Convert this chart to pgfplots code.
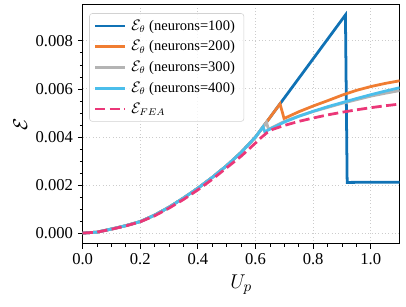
\documentclass[border=0pt]{standalone}
\usepackage{pgfplots}
\usepackage{pgfplotstable}
\pgfplotsset{compat=1.18}
\usepackage{fontspec}
\setmainfont{Liberation Serif}
\definecolor{cblue}{RGB}{16,114,181}
\definecolor{corange}{RGB}{240,125,50}
\definecolor{cgray}{RGB}{180,180,180}
\definecolor{ccyan}{RGB}{75,190,235}
\definecolor{cpink}{RGB}{235,55,120}

\pgfplotstableread{
x y
0 0
0.05 0.00004
0.1 0.00017
0.15 0.00031
0.2 0.00048
0.25 0.00075
0.3 0.00108
0.35 0.00146
0.4 0.00187
0.45 0.00232
0.5 0.00281
0.55 0.00336
0.6 0.00400
0.626 0.00442
0.912 0.00908
0.918 0.00211
1.1 0.00212
}\tblA
\pgfplotstableread{
x y
0 0
0.05 0.00004
0.1 0.00017
0.15 0.00031
0.2 0.00048
0.25 0.00075
0.3 0.00108
0.35 0.00146
0.4 0.00187
0.45 0.00232
0.5 0.00281
0.55 0.00336
0.6 0.00400
0.626 0.00442
0.64 0.00465
0.685 0.00538
0.699 0.00477
0.75 0.00505
0.8 0.00529
0.85 0.00551
0.9 0.00574
0.95 0.00594
1.0 0.00610
1.05 0.00623
1.1 0.00634
}\tblB
\pgfplotstableread{
x y
0 0
0.05 0.00004
0.1 0.00017
0.15 0.00031
0.2 0.00048
0.25 0.00075
0.3 0.00108
0.35 0.00146
0.4 0.00187
0.45 0.00232
0.5 0.00281
0.55 0.00336
0.6 0.00400
0.626 0.00442
0.638 0.00461
0.645 0.00432
0.7 0.00465
0.75 0.00487
0.8 0.00506
0.85 0.00523
0.9 0.00540
0.95 0.00555
1.0 0.00570
1.05 0.00582
1.1 0.00593
}\tblC
\pgfplotstableread{
x y
0 0
0.05 0.00004
0.1 0.00017
0.15 0.00031
0.2 0.00048
0.25 0.00075
0.3 0.00108
0.35 0.00146
0.4 0.00187
0.45 0.00232
0.5 0.00281
0.55 0.00336
0.6 0.00400
0.626 0.00442
0.632 0.00422
0.7 0.00462
0.75 0.00486
0.8 0.00507
0.85 0.00526
0.9 0.00543
0.95 0.00560
1.0 0.00576
1.05 0.00591
1.1 0.00605
}\tblD
\pgfplotstableread{
x y
0 0
0.05 0.00004
0.1 0.00016
0.15 0.00030
0.2 0.00047
0.25 0.00072
0.3 0.00104
0.35 0.00140
0.4 0.00180
0.45 0.00224
0.5 0.00272
0.55 0.00320
0.6 0.00375
0.62 0.00398
0.64 0.00418
0.66 0.00432
0.7 0.00448
0.75 0.00465
0.8 0.00479
0.85 0.00492
0.9 0.00503
0.95 0.00513
1.0 0.00522
1.05 0.00530
1.1 0.00537
}\tblE

\begin{document}
\begin{tikzpicture}
\begin{axis}[
  scale only axis,
  width=228.2bp, height=172.1bp,
  xmin=0, xmax=1.1, ymin=-0.00045, ymax=0.0095,
  xtick={0,0.2,0.4,0.6,0.8,1.0},
  ytick={0,0.002,0.004,0.006,0.008},
  minor x tick num=3, minor y tick num=3,
  tick align=outside,
  xtick pos=bottom, ytick pos=left,
  major tick length=3.5pt, minor tick length=2pt,
  every tick/.style={black, line width=0.6pt},
  scaled y ticks=false,
  /pgf/number format/assume math mode=true,
  xticklabel style={/pgf/number format/.cd, fixed, fixed zerofill, precision=1},
  yticklabel style={/pgf/number format/.cd, fixed, fixed zerofill, precision=3},
  tick label style={font=\fontsize{12}{14}\selectfont},
  grid=major,
  major grid style={dotted, gray!40, line width=0.7pt},
  axis line style={line width=0.8pt},
  every axis x label/.style={at={(axis description cs:0.5,-0.171)}, anchor=center},
  every axis y label/.style={at={(axis description cs:-0.197,0.5)}, anchor=center, rotate=90},
  label style={font=\fontsize{15}{17}\selectfont},
  xlabel={$U_p$},
  ylabel={$\mathcal{E}$},
  legend cell align=left,
  legend style={at={(axis description cs:0.0208,0.965)}, anchor=north west,
    draw=gray!35, rounded corners=2pt, fill=white, fill opacity=0.8, text opacity=1,
    font=\fontsize{10.5}{12}\selectfont, row sep=2bp, inner xsep=3bp, inner ysep=2.5bp,
    nodes={inner xsep=3.5bp}},
  legend image code/.code={\draw[#1] (0bp,0bp) -- (21.6bp,0bp);},
]
\addplot[cblue, line width=2pt] table {\tblA};
\addlegendentry{$\mathcal{E}_\theta$ (neurons=100)}
\addplot[corange, line width=2pt] table {\tblB};
\addlegendentry{$\mathcal{E}_\theta$ (neurons=200)}
\addplot[cgray, line width=2pt] table {\tblC};
\addlegendentry{$\mathcal{E}_\theta$ (neurons=300)}
\addplot[ccyan, line width=2pt] table {\tblD};
\addlegendentry{$\mathcal{E}_\theta$ (neurons=400)}
\addplot[cpink, line width=2pt, dash pattern=on 7.4pt off 3.2pt] table {\tblE};
\addlegendentry{$\mathcal{E}_{FEA}$}
\end{axis}
\pgfresetboundingbox
\path (current axis.south west) ++(-59.5bp,-45.4bp) rectangle ++(292.3bp,221bp);
\end{tikzpicture}
\end{document}
